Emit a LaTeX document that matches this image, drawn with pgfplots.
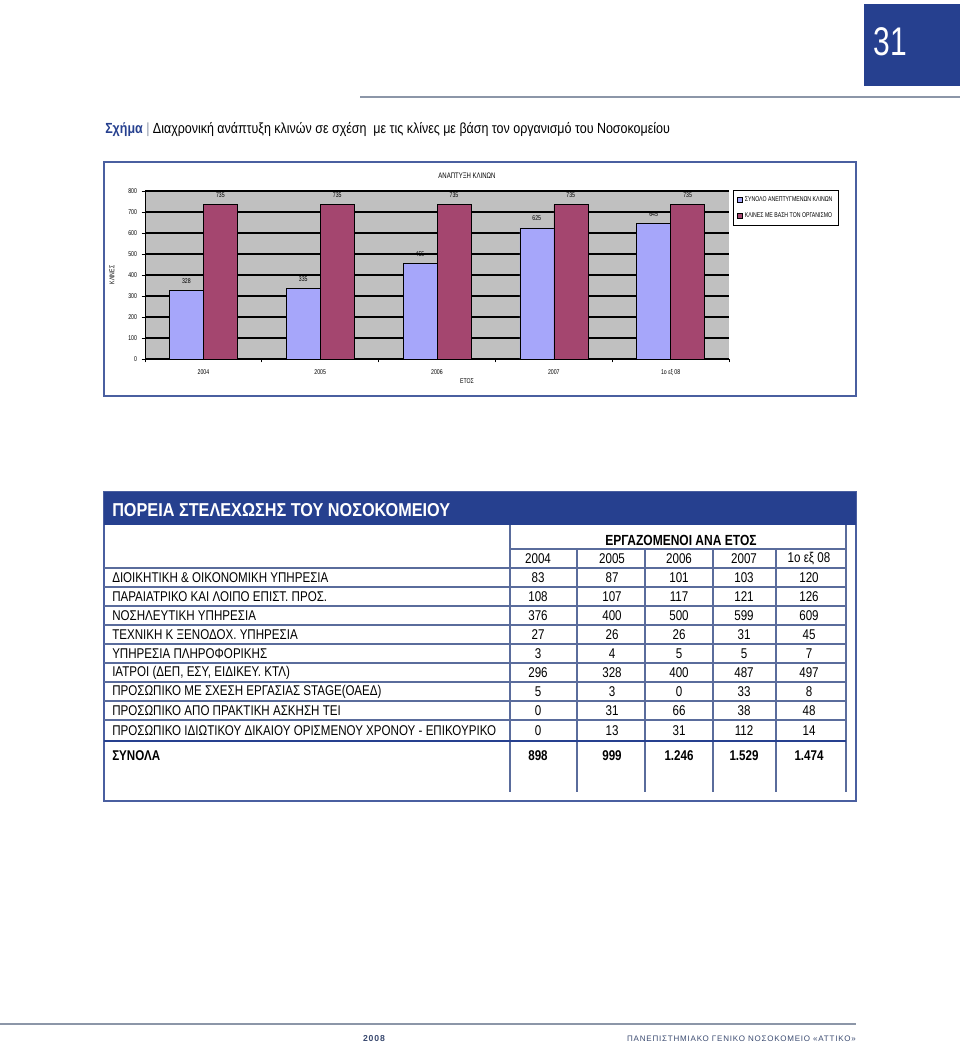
\documentclass[border=0pt]{standalone}
\usepackage{fontspec}
\setmainfont{Liberation Sans}
\newfontfamily\tabfont{Liberation Sans}[FakeStretch=0.82]
\newfontfamily\capfont{Liberation Sans}[FakeStretch=0.85]
\newfontfamily\titfont{Liberation Sans}[FakeStretch=0.87]
\newfontfamily\chfont{Liberation Sans}[FakeStretch=0.75]
\newfontfamily\spfont{Liberation Sans}[LetterSpace=10]
\usepackage{pgfplots}
\pgfplotsset{compat=1.18}
\definecolor{dblue}{HTML}{26408F}
\definecolor{frameblue}{HTML}{4A5FA0}
\definecolor{barA}{HTML}{A6A6FA}
\definecolor{barB}{HTML}{A4466F}
\definecolor{plotbg}{HTML}{C0C0C0}
\definecolor{lgray}{HTML}{8C96A8}
\definecolor{rowline}{HTML}{5A6C9C}
\definecolor{foottxt}{HTML}{3A4A70}
\newcommand{\chs}{\chfont\fontsize{5.2}{6}\selectfont}
\newcommand{\tbs}{\tabfont\fontsize{10.6}{12}\selectfont}
\begin{document}
\begin{tikzpicture}
\begin{scope}[x=0.75pt,y=-0.75pt]
\path[use as bounding box] (0,0) rectangle (960,1047);
% page number box
\fill[dblue] (864,4) rectangle (960,86);
\node[white, font=\fontsize{30}{32}\selectfont\chfont] at (890,42) {31};
\draw[lgray, line width=2.2pt] (360,97) -- (960,97);
% caption
\node[anchor=west, inner sep=0pt, font=\capfont\fontsize{11}{13}\selectfont] at (105,130)
  {\textcolor{dblue}{\bfseries Σχήμα} \textcolor{lgray}{|} Διαχρονική ανάπτυξη κλινών σε σχέση\ \ με τις κλίνες με βάση τον οργανισμό του Νοσοκομείου};
% chart frame
\draw[frameblue, line width=1.5pt] (104,162) rectangle (856,396);
\node[font=\chfont\fontsize{6}{7}\selectfont] at (467,176) {ΑΝΑΠΤΥΞΗ ΚΛΙΝΩΝ};
\node[font=\chs, rotate=90] at (112,275) {ΚΛΙΝΕΣ};
\node[font=\chs] at (467,381) {ΕΤΟΣ};
% table
\draw[frameblue, line width=1.5pt] (104,492) rectangle (856,801);
\fill[dblue] (104,492) rectangle (856,525);
\node[anchor=west, white, inner sep=0pt, font=\titfont\fontsize{14}{16}\selectfont\bfseries] at (112,510) {ΠΟΡΕΙΑ ΣΤΕΛΕΧΩΣΗΣ ΤΟΥ ΝΟΣΟΚΟΜΕΙΟΥ};
\draw[rowline, line width=0.8pt] (510,525) -- (510,792);
\draw[rowline, line width=0.8pt] (846,525) -- (846,792);
\foreach \xx in {577,645,713,776} \draw[rowline, line width=0.8pt] (\xx,549) -- (\xx,792);
\draw[rowline, line width=0.8pt] (510,549) -- (846,549);
\foreach \yy in {568,587,606,625,644,663,682,701,720} \draw[rowline, line width=0.8pt] (104,\yy) -- (846,\yy);
\draw[dblue, line width=1.5pt] (104,741) -- (846,741);
\node[font=\tabfont\fontsize{11}{12}\selectfont\bfseries] at (681,540) {ΕΡΓΑΖΟΜΕΝΟΙ ΑΝΑ ΕΤΟΣ};
\foreach \t/\xx in {2004/538,2005/612,2006/679,2007/744,1ο εξ 08/809}
  \node[font=\tbs] at (\xx,559) {\t};
\foreach \lab/\a/\b/\c/\d/\e/\yy in {
 ΔΙΟΙΚΗΤΙΚΗ \& ΟΙΚΟΝΟΜΙΚΗ ΥΠΗΡΕΣΙΑ/83/87/101/103/120/578,
 ΠΑΡΑΙΑΤΡΙΚΟ ΚΑΙ ΛΟΙΠΟ ΕΠΙΣΤ. ΠΡΟΣ./108/107/117/121/126/597,
 ΝΟΣΗΛΕΥΤΙΚΗ ΥΠΗΡΕΣΙΑ/376/400/500/599/609/616,
 ΤΕΧΝΙΚΗ Κ ΞΕΝΟΔΟΧ. ΥΠΗΡΕΣΙΑ/27/26/26/31/45/635,
 ΥΠΗΡΕΣΙΑ ΠΛΗΡΟΦΟΡΙΚΗΣ/3/4/5/5/7/654,
 ΙΑΤΡΟΙ (ΔΕΠ{,} ΕΣΥ{,} ΕΙΔΙΚΕΥ. ΚΤΛ)/296/328/400/487/497/673,
 ΠΡΟΣΩΠΙΚΟ ΜΕ ΣΧΕΣΗ ΕΡΓΑΣΙΑΣ STAGE(ΟΑΕΔ)/5/3/0/33/8/692,
 ΠΡΟΣΩΠΙΚΟ ΑΠΟ ΠΡΑΚΤΙΚΗ ΑΣΚΗΣΗ ΤΕΙ/0/31/66/38/48/711,
 ΠΡΟΣΩΠΙΚΟ ΙΔΙΩΤΙΚΟΥ ΔΙΚΑΙΟΥ ΟΡΙΣΜΕΝΟΥ ΧΡΟΝΟΥ - ΕΠΙΚΟΥΡΙΚΟ/0/13/31/112/14/731}{
  \node[anchor=west, inner sep=0pt, font=\tbs] at (112,\yy) {\lab};
  \node[font=\tbs] at (538,\yy) {\a};
  \node[font=\tbs] at (612,\yy) {\b};
  \node[font=\tbs] at (679,\yy) {\c};
  \node[font=\tbs] at (744,\yy) {\d};
  \node[font=\tbs] at (809,\yy) {\e};
}
\node[anchor=west, inner sep=0pt, font=\tbs\bfseries] at (112,756) {ΣΥΝΟΛΑ};
\foreach \v/\xx in {898/538,999/612,1.246/679,1.529/744,1.474/809}
  \node[font=\tbs\bfseries] at (\xx,756) {\v};
% footer
\draw[lgray, line width=1.6pt] (0,1024) -- (856,1024);
\node[font=\spfont\fontsize{6.5}{8}\selectfont\bfseries, text=foottxt] at (374,1039) {2008};
\node[anchor=east, inner sep=0pt, font=\spfont\fontsize{6}{8}\selectfont, text=foottxt] at (856,1039) {ΠΑΝΕΠΙΣΤΗΜΙΑΚΟ ΓΕΝΙΚΟ ΝΟΣΟΚΟΜΕΙΟ «ΑΤΤΙΚΟ»};
\end{scope}
\begin{axis}[at={(108.75pt,-269.25pt)}, anchor=south west, scale only axis,
  width=438pt, height=126pt,
  ybar=0pt, bar width=25.5pt,
  ymin=0, ymax=800, xmin=-0.5, xmax=4.5,
  xtick={0,...,4}, xticklabels={2004,2005,2006,2007,1ο εξ 08},
  major x tick style={draw=none},
  minor xtick={-0.5,0.5,...,4.5},
  ytick={0,100,...,800},
  /pgf/number format/assume math mode=true,
  tick align=outside, major tick length=2.5pt, minor tick length=2.5pt,
  axis background/.style={fill=plotbg},
  ymajorgrids, grid style={black, line width=0.8pt},
  axis x line*=bottom, axis y line*=left, axis line style={black, line width=0.6pt, -},
  tick style={black, line width=0.5pt},
  tick label style={font=\chs},
  xticklabel style={yshift=-2pt},
  nodes near coords,
  every node near coord/.append style={font=\chs, black, yshift=1.5pt},
  legend style={at={(1.007,1.006)}, anchor=north west, draw=black, line width=0.6pt,
    font=\chs, row sep=3pt, inner sep=2.5pt},
  legend cell align=left,
  legend image code/.code={\draw[#1, draw=black, line width=0.4pt] (0pt,-1.8pt) rectangle (3.6pt,1.8pt);},
]
\addplot[fill=barA, draw=black, line width=0.4pt] coordinates {(0,328) (1,335) (2,455) (3,625) (4,645)};
\addplot[fill=barB, draw=black, line width=0.4pt] coordinates {(0,735) (1,735) (2,735) (3,735) (4,735)};
\legend{ΣΥΝΟΛΟ ΑΝΕΠΤΥΓΜΕΝΩΝ ΚΛΙΝΩΝ, ΚΛΙΝΕΣ ΜΕ ΒΑΣΗ ΤΟΝ ΟΡΓΑΝΙΣΜΟ}
\end{axis}
\end{tikzpicture}
\end{document}
